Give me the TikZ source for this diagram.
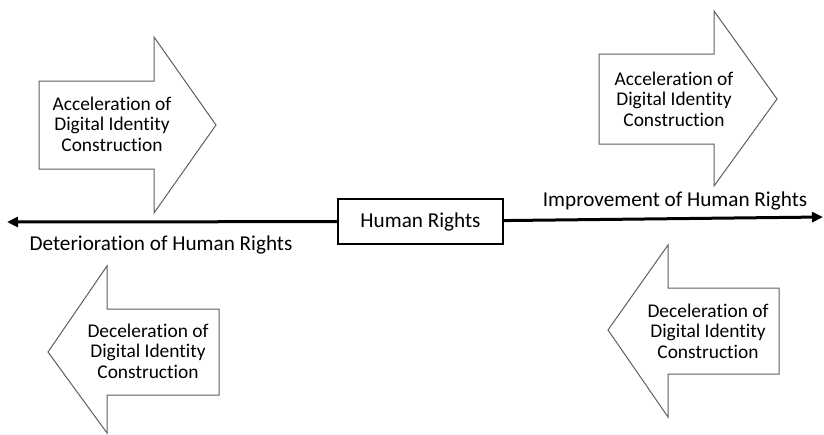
\documentclass[tikz,border=0pt]{standalone}
\usepackage{fontspec}
\setmainfont{Carlito}[Ligatures=NoCommon]
\usetikzlibrary{arrows.meta,positioning}

\begin{document}
\begin{tikzpicture}[x=0.5pt, y=-0.5pt,
        blockarrow/.style={draw=arrowgray, line width=0.5pt, fill=white, line join=miter},
        arrowtext/.style={align=center, font=\fontsize{9.7}{10.3}\selectfont, inner sep=0pt},
        axislabel/.style={font=\fontsize{10.6}{12}\selectfont, inner sep=0pt},
        axis/.style={line width=1.5pt, -{Triangle[length=5.5pt, width=5pt]}}]
        \definecolor{arrowgray}{RGB}{95,95,95}

        \useasboundingbox (0,0) rectangle (824,434);

        % Top left - acceleration, pointing right
        \draw[blockarrow] (39,81) -- (154,81) -- (154,37) -- (216,125) -- (154,213) -- (154,169) -- (39,169) -- cycle;
        \node[arrowtext] (accleft) at (112,124) {Acceleration of\\Digital Identity\\Construction};

        % Top right - acceleration, pointing right
        \draw[blockarrow] (599,54) -- (714,54) -- (714,11) -- (777,99) -- (714,186) -- (714,144) -- (599,144) -- cycle;
        \node[arrowtext] (accright) at (674,99) {Acceleration of\\Digital Identity\\Construction};

        % Bottom left - deceleration, pointing left
        \draw[blockarrow] (219,309) -- (107,309) -- (107,266) -- (48,352) -- (107,433) -- (107,395) -- (219,395) -- cycle;
        \node[arrowtext] (decleft) at (148,351) {Deceleration of\\Digital Identity\\Construction};

        % Bottom right - deceleration, pointing left
        \draw[blockarrow] (779,288) -- (668,288) -- (668,245) -- (608,330) -- (668,417) -- (668,374) -- (779,374) -- cycle;
        \node[arrowtext] (decright) at (708,331) {Deceleration of\\Digital Identity\\Construction};

        % Centre - human rights on the axis
        \node[draw, line width=0.75pt, minimum width=82.5pt, minimum height=22.5pt, font=\fontsize{10.6}{12}\selectfont] (hr) at (420.5,221.5) {Human Rights};
        \coordinate (worse) at (7,222);
        \coordinate (better) at (823,217);

        % Axis
        \draw[axis] (hr) -- (worse);
        \draw[axis] (hr) -- (better);

        % Axis labels
        \node[axislabel] (worselabel) at (161,245) {Deterioration of Human Rights};
        \node[axislabel] (betterlabel) at (675,201) {Improvement of Human Rights};
    \end{tikzpicture}
\end{document}
